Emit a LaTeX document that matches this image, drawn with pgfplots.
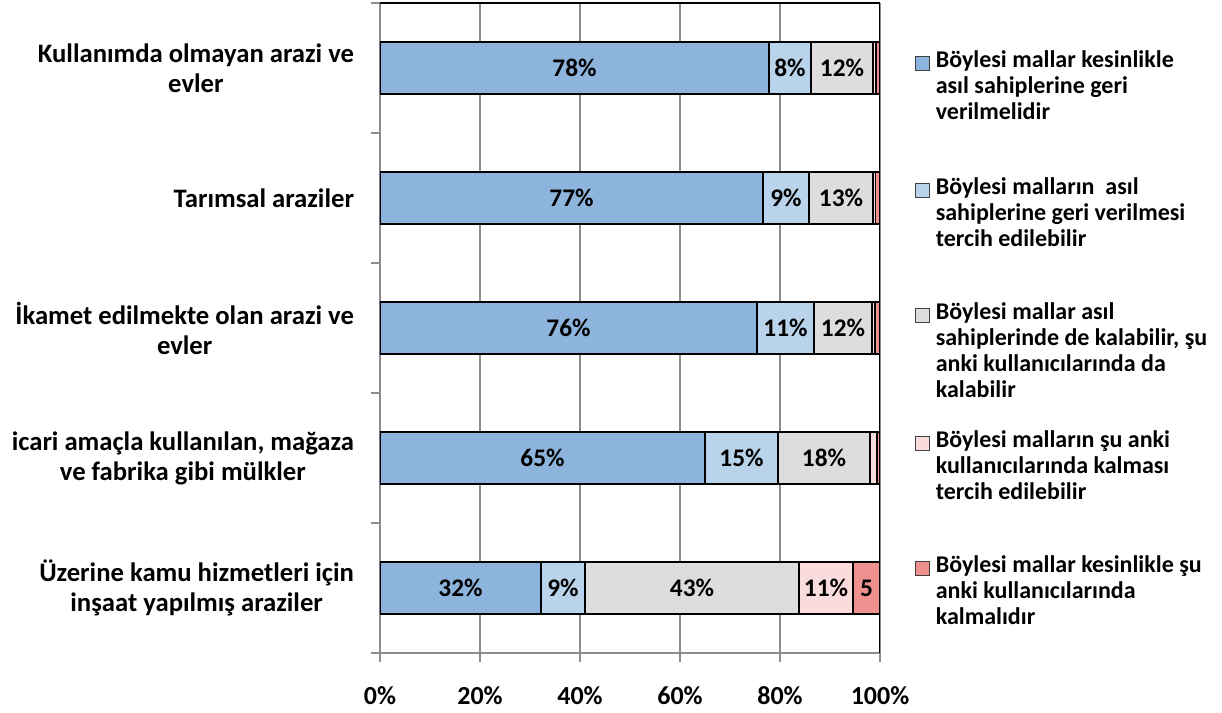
\documentclass[border=0pt]{standalone}
\usepackage{pgfplots}
\pgfplotsset{compat=1.18}
\usepackage{pgfplotstable}
\usepackage{fontspec}
\setmainfont{Carlito}

\definecolor{cA}{RGB}{141,180,220}
\definecolor{cB}{RGB}{185,211,234}
\definecolor{cC}{RGB}{221,221,221}
\definecolor{cD}{RGB}{250,220,221}
\definecolor{cE}{RGB}{238,145,142}
\definecolor{gridc}{RGB}{140,140,140}

% y: 5 = top category
\pgfplotstableread{
y v
5 77.8
4 76.6
3 75.4
2 65.0
1 32.2
}\sA
\pgfplotstableread{
y v
5 8.4
4 9.2
3 11.4
2 14.6
1 8.8
}\sB
\pgfplotstableread{
y v
5 12.4
4 12.8
3 11.6
2 18.4
1 42.8
}\sC
\pgfplotstableread{
y v
5 0.6
4 0.5
3 0.6
2 1.4
1 10.8
}\sD
\pgfplotstableread{
y v
5 0.8
4 0.9
3 1.0
2 0.6
1 5.4
}\sE
\pgfplotstableread{
x y lab
38.9 5 78\%
82.0 5 8\%
92.4 5 12\%
38.3 4 77\%
81.2 4 9\%
92.2 4 13\%
37.7 3 76\%
81.1 3 11\%
92.6 3 12\%
32.5 2 65\%
72.3 2 15\%
88.8 2 18\%
16.1 1 32\%
36.6 1 9\%
62.4 1 43\%
89.2 1 11\%
97.3 1 5
}\labs

\newcommand{\sq}[1]{\raisebox{-1.5pt}{{\setlength\fboxsep{0pt}\setlength\fboxrule{0.7pt}\fcolorbox{black!75}{#1}{\rule{0pt}{9.5pt}\rule{9.5pt}{0pt}}}}}

\begin{document}
\begin{tikzpicture}
\path[use as bounding box] (-285pt,-45pt) rectangle (631.5pt,489.75pt);
\begin{axis}[
  name=main,
  scale only axis, width=375pt, height=487.5pt,
  xbar stacked, bar width=0.4,
  xmin=0, xmax=100, ymin=0.5, ymax=5.5,
  axis x line*=bottom, axis y line*=left,
  axis line style={gridc, line width=2pt},
  xtick={0,20,...,100},
  xticklabels={0\%,20\%,40\%,60\%,80\%,100\%},
  minor xtick={0,20,...,100},
  ytick={1,2,3,4,5},
  yticklabels={{Üzerine kamu hizmetleri için\\inşaat yapılmış araziler},
               {icari amaçla kullanılan, mağaza\\ve fabrika gibi mülkler},
               {İkamet edilmekte olan arazi ve\\evler},
               {Tarımsal araziler},
               {Kullanımda olmayan arazi ve\\evler}},
  minor ytick={0.5,1.5,...,5.5},
  major tick length=0pt, minor tick length=7pt, tick align=outside,
  minor tick style={gridc, line width=1.2pt},
  xmajorgrids, grid style={gridc, line width=1.2pt},
  xticklabel style={font=\fontsize{19.5}{21}\selectfont\bfseries, yshift=-22pt},
  yticklabel style={font=\fontsize{20}{22.5}\selectfont\bfseries, align=center, xshift=-16pt},
  every axis plot/.append style={draw=black, line width=1.2pt},
]
\addplot[fill=cA] table[x=v,y=y] {\sA};
\addplot[fill=cB] table[x=v,y=y] {\sB};
\addplot[fill=cC] table[x=v,y=y] {\sC};
\addplot[fill=cD] table[x=v,y=y] {\sD};
\addplot[fill=cE] table[x=v,y=y] {\sE};
\draw[black, line width=1.2pt] (axis cs:0,5.5) -- (axis cs:100,5.5) -- (axis cs:100,0.5);
\end{axis}
\begin{axis}[
  scale only axis, width=375pt, height=487.5pt,
  xmin=0, xmax=100, ymin=0.5, ymax=5.5,
  hide axis,
]
\addplot[draw=none, mark=none, nodes near coords, point meta=explicit symbolic,
  nodes near coords align={center},
  every node near coord/.append style={font=\fontsize{19}{21}\selectfont\bfseries, text=black, inner sep=0pt}]
  table[x=x,y=y,meta=lab] {\labs};
\end{axis}
\begin{scope}[font=\fontsize{18}{19.5}\selectfont\bfseries]
\node[anchor=base west, inner sep=0pt] at (401.25pt,438.75pt)
 {\begin{tabular}[t]{@{}l@{\hspace{4.5pt}}l@{}}\sq{cA} & Böylesi mallar kesinlikle\\ & asıl sahiplerine geri\\ & verilmelidir\end{tabular}};
\node[anchor=base west, inner sep=0pt] at (401.25pt,343.5pt)
 {\begin{tabular}[t]{@{}l@{\hspace{4.5pt}}l@{}}\sq{cB} & Böylesi malların\ \ asıl\\ & sahiplerine geri verilmesi\\ & tercih edilebilir\end{tabular}};
\node[anchor=base west, inner sep=0pt] at (401.25pt,249.75pt)
 {\begin{tabular}[t]{@{}l@{\hspace{4.5pt}}l@{}}\sq{cC} & Böylesi mallar asıl\\ & sahiplerinde de kalabilir, şu\\ & anki kullanıcılarında da\\ & kalabilir\end{tabular}};
\node[anchor=base west, inner sep=0pt] at (401.25pt,153.75pt)
 {\begin{tabular}[t]{@{}l@{\hspace{4.5pt}}l@{}}\sq{cD} & Böylesi malların şu anki\\ & kullanıcılarında kalması\\ & tercih edilebilir\end{tabular}};
\node[anchor=base west, inner sep=0pt] at (401.25pt,60pt)
 {\begin{tabular}[t]{@{}l@{\hspace{4.5pt}}l@{}}\sq{cE} & Böylesi mallar kesinlikle şu\\ & anki kullanıcılarında\\ & kalmalıdır\end{tabular}};
\end{scope}
\end{tikzpicture}
\end{document}
